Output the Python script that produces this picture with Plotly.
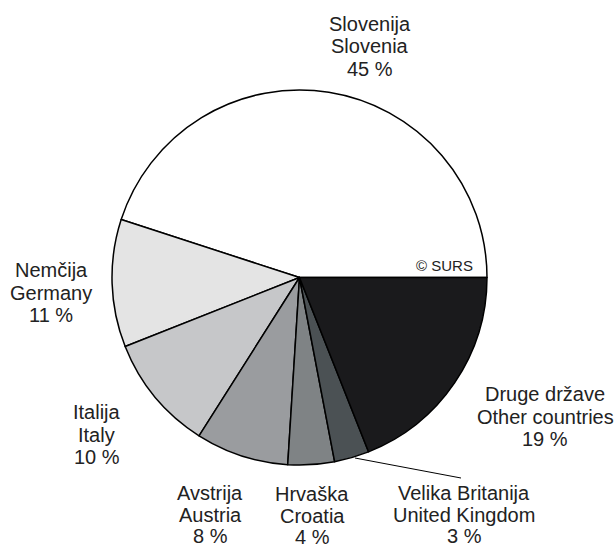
import plotly.graph_objects as go

W, H = 614, 549

labels_sl = ["Slovenija", "Nemčija", "Italija", "Avstrija", "Hrvaška", "Velika Britanija", "Druge države"]
labels_en = ["Slovenia", "Germany", "Italy", "Austria", "Croatia", "United Kingdom", "Other countries"]
values = [45, 11, 10, 8, 4, 3, 19]
colors = ["#ffffff", "#e4e4e4", "#c6c7c9", "#9a9c9f", "#7f8385", "#4b5154", "#1a1a1c"]

# label block centres (pixels: x, y of first line's middle, line gap)
label_pos = [(370, 24, 22.5), (51, 270, 22.5), (97, 412, 22.5), (210, 493, 21.5),
             (312, 494, 21.5), (464, 493, 21.5), (545, 394, 22.5)]


def px(x):
    return x / W


def py(y):
    return 1 - y / H


cx, cy, r = 299.5, 277.5, 187.5

fig = go.Figure(go.Pie(
    labels=[f"{a} / {b}" for a, b in zip(labels_sl, labels_en)],
    values=values,
    sort=False,
    direction="counterclockwise",
    rotation=-72,
    textinfo="none",
    hoverinfo="label+percent",
    marker=dict(colors=colors, line=dict(color="#000000", width=1.5)),
    domain=dict(x=[px(cx - r), px(cx + r)], y=[py(cy + r), py(cy - r)]),
    showlegend=False,
))

font = dict(family="Liberation Sans, Arial, sans-serif", size=20, color="#222222")
annotations = []
for sl, en, v, (lx, ly, gap) in zip(labels_sl, labels_en, values, label_pos):
    for i, t in enumerate([sl, en, f"{v} %"]):
        annotations.append(dict(
            x=px(lx), y=py(ly + i * gap), xref="paper", yref="paper",
            text=t, showarrow=False, xanchor="center", yanchor="middle", font=font,
        ))

annotations.append(dict(
    x=px(475), y=py(265), xref="paper", yref="paper", text="© SURS",
    showarrow=False, xanchor="right", yanchor="middle",
    font=dict(family="Liberation Sans, Arial, sans-serif", size=15, color="#222222"),
))

shapes = [dict(type="line", xref="paper", yref="paper",
               x0=px(355), y0=py(458), x1=px(461), y1=py(478),
               line=dict(color="#000000", width=1))]

fig.update_layout(
    width=W, height=H,
    margin=dict(l=0, r=0, t=0, b=0),
    paper_bgcolor="#ffffff", plot_bgcolor="#ffffff",
    annotations=annotations, shapes=shapes,
)

fig.write_html(
    "out.html",
    config={"displayModeBar": False},
    post_script="document.body.style.margin='0';document.body.style.overflow='hidden';",
)
